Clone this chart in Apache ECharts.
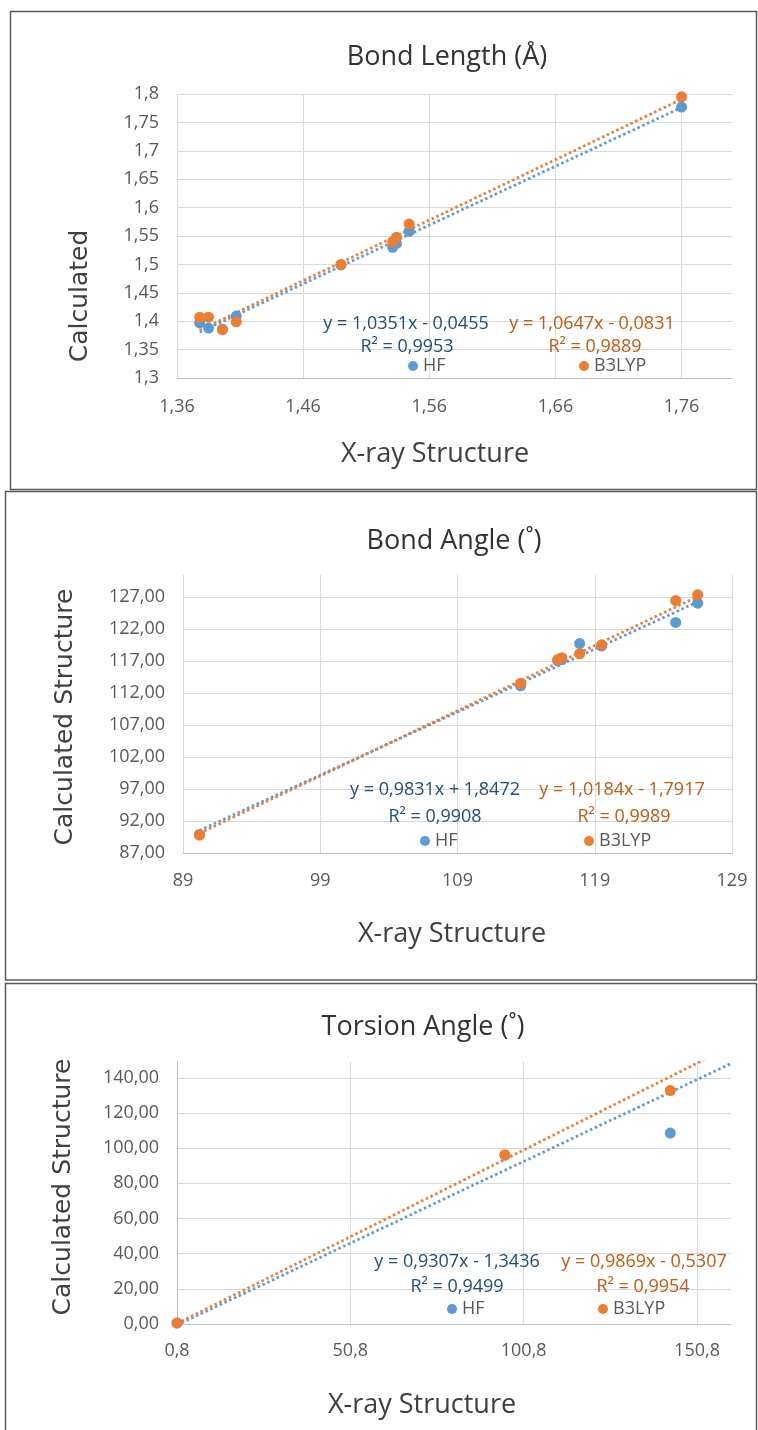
<!DOCTYPE html>
<html>
<head>
<meta charset="utf-8">
<script src="https://cdn.jsdelivr.net/npm/echarts@6/dist/echarts.min.js"></script>
<style>
  html, body { margin: 0; padding: 0; background: #fff; }
  #chart { width: 758px; height: 1430px; }
</style>
</head>
<body>
<div id="chart"></div>
<script>
// bond length (A)
const lenXray  = [1.378, 1.385, 1.396, 1.407, 1.49, 1.531, 1.534, 1.544, 1.76];
const lenHF    = [1.397, 1.388, 1.386, 1.409, 1.499, 1.530, 1.537, 1.558, 1.777];
const lenB3LYP = [1.407, 1.407, 1.385, 1.399, 1.500, 1.540, 1.548, 1.571, 1.795];
const lenFitHF = [1.0351, -0.0455];
const lenFitB3 = [1.0647, -0.0831];
const lenTrendX = [1.378, 1.76];
const lenEq = ['y = 1,0351x - 0,0455', 'R² = 0,9953', 'y = 1,0647x - 0,0831', 'R² = 0,9889'];
const lenXTicks = [1.36, 1.46, 1.56, 1.66, 1.76];
const lenYTicks = [1.3, 1.35, 1.4, 1.45, 1.5, 1.55, 1.6, 1.65, 1.7, 1.75, 1.8];

// bond angle
const angXray  = [90.2, 113.6, 116.3, 116.6, 117.9, 119.5, 124.9, 126.5];
const angHF    = [89.9, 113.1, 117.0, 117.2, 119.7, 119.3, 123.0, 126.0];
const angB3LYP = [89.8, 113.5, 117.2, 117.5, 118.1, 119.5, 126.4, 127.3];
const angFitHF = [0.9831, 1.8472];
const angFitB3 = [1.0184, -1.7917];
const angTrendX = [90.2, 126.5];
const angEq = ['y = 0,9831x + 1,8472', 'R² = 0,9908', 'y = 1,0184x - 1,7917', 'R² = 0,9989'];
const angXTicks = [89, 99, 109, 119, 129];
const angYTicks = [87, 92, 97, 102, 107, 112, 117, 122, 127];

// torsion angle
const torXray  = [0.8, 95.4, 143.1];
const torHF    = [0.6, 96.0, 108.6];
const torB3LYP = [0.5, 96.2, 132.8];
const torFitHF = [0.9307, -1.3436];
const torFitB3 = [0.9869, -0.5307];
const torTrendX = [0.8, 160.6];
const torEq = ['y = 0,9307x - 1,3436', 'R² = 0,9499', 'y = 0,9869x - 0,5307', 'R² = 0,9954'];
const torXTicks = [0.8, 50.8, 100.8, 150.8];
const torYTicks = [0, 20, 40, 60, 80, 100, 120, 140];

const HF_COLOR = '#5b9bd5';
const B3_COLOR = '#ed7d31';
const FONT = "'Open Sans', sans-serif";

const dec = (n) => (v) => v.toFixed(n).replace('.', ',');
const short = (v) => String(parseFloat(v.toFixed(3))).replace('.', ',');
const trend = (fit, xs) => xs.map((x) => [x, fit[0] * x + fit[1]]);

const panels = [
  {
    title: 'Bond Length (Å)', yName: 'Calculated',
    x: lenXray, hf: lenHF, b3: lenB3LYP, fitHF: lenFitHF, fitB3: lenFitB3, trendX: lenTrendX, eq: lenEq,
    xTicks: lenXTicks, yTicks: lenYTicks, xFmt: dec(2), yFmt: short,
    xMin: 1.36, xMax: 1.8, yMin: 1.3, yMax: 1.8,
    grid: { left: 177, top: 94, width: 555, height: 284 }, xMargin: 20,
    box: [10.5, 11.5, 746, 478],
    titlePos: [447, 57], yNamePos: [80, 296], xNamePos: [435, 454],
    eqPos: [[406, 324], [407, 347], [592, 324], [595, 347]],
    legPos: [[408, 368], [579, 368]],
  },
  {
    title: 'Bond Angle (˚)', yName: 'Calculated Structure',
    x: angXray, hf: angHF, b3: angB3LYP, fitHF: angFitHF, fitB3: angFitB3, trendX: angTrendX, eq: angEq,
    xTicks: angXTicks, yTicks: angYTicks, xFmt: dec(0), yFmt: dec(2),
    xMin: 89, xMax: 129, yMin: 87, yMax: 130.4,
    grid: { left: 183, top: 575, width: 549, height: 278 }, xMargin: 19,
    box: [5.5, 491.5, 751, 488.5],
    titlePos: [454, 541], yNamePos: [65, 717], xNamePos: [452, 934],
    eqPos: [[435, 790], [435, 817], [622, 790], [624, 817]],
    legPos: [[420, 843], [584, 843]],
  },
  {
    title: 'Torsion Angle (˚)', yName: 'Calculated Structure',
    x: torXray, hf: torHF, b3: torB3LYP, fitHF: torFitHF, fitB3: torFitB3, trendX: torTrendX, eq: torEq,
    xTicks: torXTicks, yTicks: torYTicks, xFmt: dec(1), yFmt: dec(2),
    xMin: 0.8, xMax: 160.6, yMin: 0, yMax: 149,
    grid: { left: 177, top: 1062, width: 554, height: 262 }, xMargin: 18,
    box: [5.5, 983.5, 751, 460],
    titlePos: [423, 1027], yNamePos: [63, 1187], xNamePos: [422, 1405],
    eqPos: [[457, 1262], [457, 1287], [644, 1262], [643, 1287]],
    legPos: [[447, 1311], [598, 1311]],
  },
];

const txt = (pos, text, font, color, rot) => ({
  type: 'text', x: pos[0], y: pos[1], rotation: rot || 0, silent: true, z: 10,
  style: {
    text, font, fill: color,
    align: 'center', verticalAlign: 'middle',
    textAlign: 'center', textVerticalAlign: 'middle',
  },
});

const grid = [], xAxis = [], yAxis = [], series = [], legend = [], graphic = [];

panels.forEach((p, i) => {
  grid.push(p.grid);
  xAxis.push({
    gridIndex: i, type: 'value', min: p.xMin, max: p.xMax,
    axisLine: { show: true, onZero: false, lineStyle: { color: '#bfbfbf', width: 1 } },
    axisTick: { show: false, customValues: p.xTicks },
    axisLabel: {
      customValues: p.xTicks, formatter: p.xFmt, margin: p.xMargin,
      color: '#595959', fontFamily: FONT, fontSize: 18,
    },
    splitLine: { show: true, lineStyle: { color: '#d9d9d9', width: 1 } },
  });
  yAxis.push({
    gridIndex: i, type: 'value', min: p.yMin, max: p.yMax,
    axisLine: { show: i === 2, onZero: false, lineStyle: { color: '#bfbfbf', width: 1 } },
    axisTick: { show: false, customValues: p.yTicks },
    axisLabel: {
      customValues: p.yTicks, formatter: p.yFmt, margin: 18,
      color: '#595959', fontFamily: FONT, fontSize: 18,
    },
    splitLine: { show: true, lineStyle: { color: '#d9d9d9', width: 1 } },
  });

  // trendlines (dotted), then markers on top
  series.push({
    type: 'line', xAxisIndex: i, yAxisIndex: i, data: trend(p.fitHF, p.trendX),
    symbol: 'none', silent: true, z: 2, clip: true,
    lineStyle: { color: HF_COLOR, width: 2.75, type: [2.5, 2.75] },
  });
  series.push({
    type: 'line', xAxisIndex: i, yAxisIndex: i, data: trend(p.fitB3, p.trendX),
    symbol: 'none', silent: true, z: 2, clip: true,
    lineStyle: { color: B3_COLOR, width: 2.75, type: [2.5, 2.75] },
  });
  series.push({
    name: 'HF', type: 'scatter', xAxisIndex: i, yAxisIndex: i,
    data: p.x.map((v, k) => [v, p.hf[k]]),
    symbolSize: 11, z: 3, itemStyle: { color: HF_COLOR, opacity: 1 },
  });
  series.push({
    name: 'B3LYP', type: 'scatter', xAxisIndex: i, yAxisIndex: i,
    data: p.x.map((v, k) => [v, p.b3[k]]),
    symbolSize: 11, z: 4, itemStyle: { color: B3_COLOR, opacity: 1 },
  });

  ['HF', 'B3LYP'].forEach((name, k) => {
    legend.push({
      data: [name], left: p.legPos[k][0], top: p.legPos[k][1] - 11,
      icon: 'circle', itemWidth: 10, itemHeight: 10, itemGap: 0, padding: 0,
      selectedMode: false,
      textStyle: { fontFamily: FONT, fontSize: 18, color: '#595959' },
    });
  });

  graphic.push({
    type: 'rect', silent: true, z: 0,
    shape: { x: p.box[0], y: p.box[1], width: p.box[2], height: p.box[3] },
    style: { fill: null, stroke: '#595959', lineWidth: 1.5 },
  });
  graphic.push(txt(p.titlePos, p.title, "27px 'Open Sans', sans-serif", '#333333'));
  graphic.push(txt(p.xNamePos, 'X-ray Structure', "27px 'Open Sans', sans-serif", '#404040'));
  graphic.push(txt(p.yNamePos, p.yName, "25px 'DejaVu Sans', sans-serif", '#404040', Math.PI / 2));
  p.eq.forEach((t, k) => {
    graphic.push(txt(p.eqPos[k], t, "18px 'Open Sans', sans-serif", k < 2 ? '#1f4e79' : '#c55a11'));
  });
});

const dom = document.getElementById('chart');
const myChart = echarts.init(dom, null, { renderer: 'canvas' });
myChart.setOption({
  animation: false,
  backgroundColor: '#ffffff',
  grid, xAxis, yAxis, series, legend, graphic,
});
</script>
</body>
</html>
